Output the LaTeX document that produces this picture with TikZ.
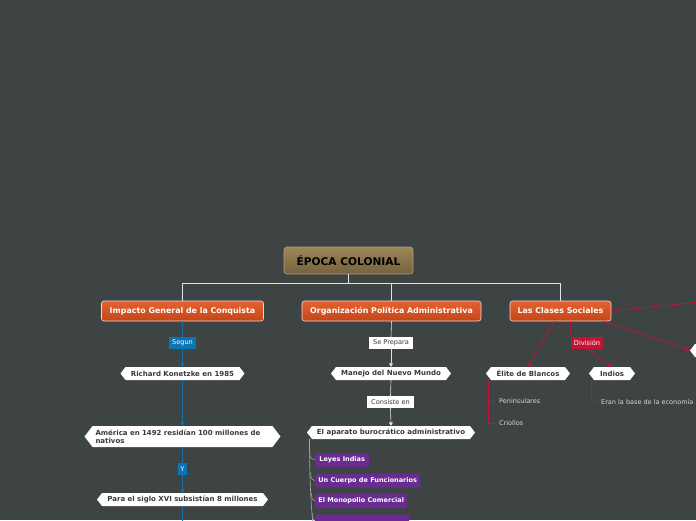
\documentclass[tikz,border=0pt]{standalone}
\usepackage{fontspec}
\setmainfont{DejaVu Sans}
\usetikzlibrary{shapes.symbols,arrows.meta}
\definecolor{bg}{HTML}{3E4344}
\definecolor{rootA}{HTML}{9C8757}
\definecolor{rootB}{HTML}{76623E}
\definecolor{rootE}{HTML}{B5A070}
\definecolor{orA}{HTML}{E5622D}
\definecolor{orB}{HTML}{C4441B}
\definecolor{orE}{HTML}{EEDCD2}
\definecolor{txtdark}{HTML}{3A3A3A}
\definecolor{bluec}{HTML}{1B6DA6}
\definecolor{labblue}{HTML}{0A74B5}
\definecolor{redc}{HTML}{C31432}
\definecolor{purp}{HTML}{6A2C91}
\definecolor{wline}{HTML}{E2E2E2}
\definecolor{gline}{HTML}{A8A8A8}
\definecolor{lighttxt}{HTML}{D8D8D8}
\tikzset{
  rootbox/.style={rectangle, rounded corners=3pt, top color=rootA, bottom color=rootB, draw=rootE, line width=0.6pt,
    minimum width=129, minimum height=27, inner sep=0, font=\bfseries\fontsize{10.6}{12}\selectfont, text=black},
  mainbox/.style={rectangle, rounded corners=2.5pt, top color=orA, bottom color=orB, draw=orE, line width=0.6pt,
    minimum height=20, inner sep=0, font=\bfseries\fontsize{7.9}{9}\selectfont, text=white},
  hexbox/.style={signal, signal to=west and east, signal pointer angle=105, fill=white, inner sep=0, inner xsep=0,
    minimum height=13, font=\bfseries\fontsize{7}{8}\selectfont, text=txtdark},
  lab/.style={rectangle, inner sep=0, minimum height=12, font=\fontsize{6.6}{7}\selectfont},
  purpbox/.style={rectangle, rounded corners=2pt, fill=purp, minimum height=14, inner sep=0,
    font=\bfseries\fontsize{6.5}{7}\selectfont, text=white},
  leaftxt/.style={anchor=west, inner sep=0, font=\fontsize{6.5}{7}\selectfont, text=lighttxt},
  tip/.style={-{Triangle[length=3.5pt,width=4pt]}},
}
\begin{document}
\begin{tikzpicture}[x=1pt,y=-1pt]
\fill[bg] (0,0) rectangle (696,520);
\useasboundingbox (0,0) rectangle (696,520);
\begin{scope}
\clip (0,0) rectangle (696,520);

% root and main nodes
\node[rootbox] (root) at (348.5,260.5) {ÉPOCA COLONIAL};
\node[mainbox, minimum width=162] (imp) at (182.5,311) {Impacto General de la Conquista};
\node[mainbox, minimum width=179] (org) at (391.5,311) {Organización Política Administrativa};
\node[mainbox, minimum width=101] (cla) at (560.5,311) {Las Clases Sociales};

\coordinate (jn) at (348.5,283);
\draw[wline, line width=0.6pt] (root.south) -- (jn);
\draw[wline, line width=0.6pt] (jn) -| (imp.north);
\draw[wline, line width=0.6pt] (jn) -| (org.north);
\draw[wline, line width=0.6pt] (jn) -| (cla.north);

% left branch
\node[hexbox, minimum width=124] (ric) at (182.5,373.5) {Richard Konetzke en 1985};
\node[hexbox, minimum width=196, minimum height=21, text width=174, align=left, font=\bfseries\fontsize{7}{7.6}\selectfont] (ame) at (182.5,436.5) {América en 1492 residían 100 millones de nativos};
\node[hexbox, minimum width=171] (par) at (182.5,499.5) {Para el siglo XVI subsistían 8 millones};
\node[lab, fill=labblue, text=white, minimum width=27] (seg) at (182.5,343) {Segun};
\node[lab, fill=labblue, text=white, minimum width=9] (yy) at (182.5,469) {Y};
\coordinate (lb) at (182.5,522);
\draw[bluec, line width=0.9pt] (imp.south) -- (seg.north);
\draw[bluec, line width=0.9pt, tip] (seg.south) -- (ric.north);
\draw[bluec, line width=0.9pt, tip] (ric.south) -- (ame.north);
\draw[bluec, line width=0.9pt] (ame.south) -- (yy.north);
\draw[bluec, line width=0.9pt, tip] (yy.south) -- (par.north);
\draw[bluec, line width=0.9pt] (par.south) -- (lb);

% middle branch
\node[hexbox, minimum width=120] (man) at (391,373.5) {Manejo del Nuevo Mundo};
\node[hexbox, minimum width=168] (apa) at (391,432.5) {El aparato burocrático administrativo};
\node[lab, fill=white, text=txtdark, minimum width=44] (sep) at (391,343) {Se Prepara};
\node[lab, fill=white, text=txtdark, minimum width=47] (con) at (390.5,402) {Consiste en};
\draw[wline, line width=0.6pt] (org.south) -- (sep.north);
\draw[wline, line width=0.6pt, tip] (sep.south) -- (man.north);
\draw[wline, line width=0.6pt] (man.south) -- (con.north);
\draw[wline, line width=0.6pt, tip] (con.south) -- (apa.north);

\node[purpbox, minimum width=54, anchor=west] (ley) at (315,460) {Leyes Indias};
\node[purpbox, minimum width=105, anchor=west] (cue) at (315,480.5) {Un Cuerpo de Funcionarios};
\node[purpbox, minimum width=92, anchor=west] (mon) at (315,501) {El Monopolio Comercial};
\node[purpbox, minimum width=94, anchor=west] (cua) at (315,521.5) {};
\coordinate (ps) at (309.5,439);
\coordinate (pe) at (313,525);
\draw[gline, line width=0.6pt] (ps) .. controls (309.5,480) and (311,505) .. (pe);
\draw[gline, line width=0.5pt] (309.8,451) .. controls (310,458) .. (ley.west);
\draw[gline, line width=0.5pt] (310.6,472) .. controls (311,479) .. (cue.west);
\draw[gline, line width=0.5pt] (311.5,493) .. controls (312,500) .. (mon.west);
\draw[gline, line width=0.5pt] (312.5,513) .. controls (313,520) .. (cua.west);

% right branch
\node[hexbox, minimum width=84] (eli) at (528,373.5) {Élite de Blancos};
\node[hexbox, minimum width=46] (ind) at (612,373.5) {Indios};
\node[hexbox, minimum width=40] (off) at (710,350.5) {};
\node[lab, fill=redc, text=white, minimum width=32] (div) at (587,343) {División};
\coordinate (offr) at (700,302);
\draw[redc, line width=0.7pt, tip] ([xshift=-6pt]cla.south) -- (eli.north);
\draw[redc, line width=0.7pt] ([xshift=10pt]cla.south) -- (div.north west);
\draw[redc, line width=0.7pt, tip] (div.south) -- (ind.north);
\draw[redc, line width=0.7pt] (cla.east) -- (offr);
\draw[redc, line width=0.7pt, tip] ([xshift=-8pt]cla.south east) -- (off.west);

\node[leaftxt] (pen) at (499,401.5) {Peninsulares};
\node[leaftxt] (cri) at (499,423.5) {Criollos};
\node[leaftxt] (era) at (601,401.5) {Eran la base de la economía};
\coordinate (ev) at (488,380);
\coordinate (iv) at (591,380);
\draw[redc, line width=0.5pt] (ev) |- ([xshift=-4pt]pen.west);
\draw[redc, line width=0.5pt] (ev) |- ([xshift=-4pt]cri.west);
\draw[redc, line width=0.5pt] (iv) |- ([xshift=-4pt]era.west);
\end{scope}
\end{tikzpicture}
\end{document}
